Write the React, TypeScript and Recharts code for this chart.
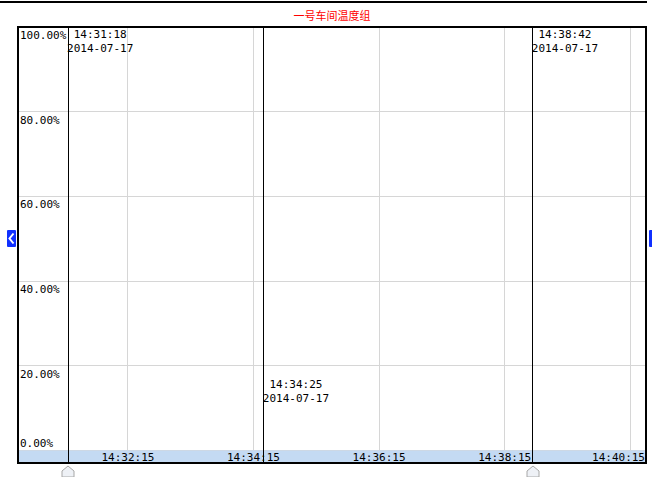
import React from "react";
import {
  ComposedChart,
  Line,
  XAxis,
  YAxis,
  CartesianGrid,
  ReferenceArea,
  ReferenceLine,
  ReferenceDot,
} from "recharts";

const chartTitle = "一号车间温度组";
const domainStart = "14:30:30";
const domainEnd = "14:40:30";
const xTickLabels = ["14:32:15", "14:34:15", "14:36:15", "14:38:15", "14:40:15"];
const yTickValues = [0, 20, 40, 60, 80, 100];
const yBandBottom = -2.95;
const cursorTimes = ["14:31:18", "14:34:25", "14:38:42"];
const cursorDates = ["2014-07-17", "2014-07-17", "2014-07-17"];
const cursorLabelLevels = [100, 17.3, 100];
const cursorMarkers = [true, false, true];
const temperatureValues: { t: number; value: number }[] = [];

const MONO = "'DejaVu Sans Mono', monospace";

const toSec = (s: string) => {
  const [h, m, sec] = s.split(":").map(Number);
  return h * 3600 + m * 60 + sec;
};
const pad = (n: number) => (n < 10 ? "0" + n : "" + n);
const fmtTime = (v: number) =>
  `${pad(Math.floor(v / 3600))}:${pad(Math.floor((v % 3600) / 60))}:${pad(v % 60)}`;

const xStart = toSec(domainStart);
const xEnd = toSec(domainEnd);
const xTicks = xTickLabels.map(toSec);

const XTick = (props: any) => {
  const { x, payload } = props;
  const label = fmtTime(payload.value);
  const overflow = x + 27 > 645;
  return (
    <text
      x={overflow ? 645 : x}
      y={461}
      textAnchor={overflow ? "end" : "middle"}
      fontFamily={MONO}
      fontSize={11}
      fill="#000"
    >
      {label}
    </text>
  );
};

const YTick = (props: any) => {
  const { y, payload } = props;
  const v = payload.value;
  return (
    <text
      x={20}
      y={v === 0 ? y - 4 : y + 12}
      textAnchor="start"
      fontFamily={MONO}
      fontSize={11}
      fill="#000"
    >
      {v.toFixed(2) + "%"}
    </text>
  );
};

const makeCursorLabel = (i: number) => (props: any) => {
  const vb = props.viewBox || {};
  const cx = vb.x + (vb.width || 0) / 2;
  const cy = vb.y + (vb.height || 0) / 2;
  return (
    <g>
      <text x={cx + 32} y={cy + 11} textAnchor="middle" fontFamily={MONO} fontSize={11} fill="#000">
        {cursorTimes[i]}
      </text>
      <text x={cx + 32} y={cy + 25} textAnchor="middle" fontFamily={MONO} fontSize={11} fill="#000">
        {cursorDates[i]}
      </text>
    </g>
  );
};

const makeMarker = (i: number) => (props: any) => {
  if (!cursorMarkers[i]) return null;
  const vb = props.viewBox || {};
  const x = Math.round(vb.x);
  const y0 = vb.y + vb.height + 3;
  const pts = `${x},${y0} ${x + 6},${y0 + 5} ${x + 6},${y0 + 11} ${x - 6},${y0 + 11} ${x - 6},${y0 + 5}`;
  return <polygon points={pts} fill="#eef1f6" stroke="#a8a8a8" strokeWidth={1} />;
};

export default function App() {
  return (
    <div
      style={{
        position: "fixed",
        left: 0,
        top: 0,
        width: 652,
        height: 477,
        background: "#fff",
        overflow: "hidden",
      }}
    >
      <div
        style={{
          position: "absolute",
          left: 0,
          top: 1,
          width: 647,
          height: 2,
          background: "#000",
        }}
      />
      <div
        style={{
          position: "absolute",
          left: 18,
          width: 628,
          top: 8,
          textAlign: "center",
          color: "#ff0000",
          fontFamily: "'Noto Sans CJK SC', sans-serif",
          fontSize: 11,
          lineHeight: "14px",
        }}
      >
        {chartTitle}
      </div>
      <div style={{ position: "absolute", left: 0, top: 0 }}>
        <ComposedChart
          width={652}
          height={477}
          data={temperatureValues}
          margin={{ top: 27, right: 6, bottom: 14, left: 18 }}
        >
          <CartesianGrid stroke="#d6d6d6" strokeWidth={1} shapeRendering="crispEdges" />
          <Line
            type="linear"
            dataKey="value"
            stroke="#d00000"
            dot={false}
            isAnimationActive={false}
          />
          <ReferenceArea
            x1={xStart}
            x2={xEnd}
            y1={yBandBottom}
            y2={0}
            fill="#c4daf3"
            fillOpacity={1}
            stroke="none"
            ifOverflow="visible"
          />
          <XAxis
            type="number"
            dataKey="t"
            domain={[xStart, xEnd]}
            ticks={xTicks}
            allowDataOverflow
            mirror
            height={14}
            axisLine={false}
            tickLine={false}
            tick={<XTick />}
            interval={0}
          />
          <YAxis
            type="number"
            domain={[yBandBottom, 100]}
            ticks={yTickValues}
            allowDataOverflow
            mirror
            width={60}
            axisLine={false}
            tickLine={false}
            tick={<YTick />}
            interval={0}
          />
          {cursorTimes.map((t, i) => (
            <ReferenceLine
              key={"l" + i}
              x={toSec(t)}
              stroke="#000"
              strokeWidth={1}
              shapeRendering="crispEdges"
              ifOverflow="visible"
              label={makeMarker(i)}
            />
          ))}
          {cursorTimes.map((t, i) => (
            <ReferenceDot
              key={"d" + i}
              x={toSec(t)}
              y={cursorLabelLevels[i]}
              r={0}
              fill="none"
              stroke="none"
              ifOverflow="visible"
              label={makeCursorLabel(i)}
            />
          ))}
          <ReferenceArea
            x1={xStart}
            x2={xEnd}
            y1={yBandBottom}
            y2={100}
            fill="none"
            stroke="#000"
            strokeWidth={2}
            ifOverflow="visible"
          />
        </ComposedChart>
      </div>
      <svg
        width={652}
        height={477}
        style={{ position: "absolute", left: 0, top: 0, pointerEvents: "none" }}
      >
        <rect x={7} y={230} width={9} height={17} rx={1} fill="#1030ff" />
        <polyline points="13.5,233.5 9.5,238.5 13.5,243.5" fill="none" stroke="#fff" strokeWidth={2} />
        <rect x={649} y={230} width={9} height={17} rx={1} fill="#1030ff" />
      </svg>
    </div>
  );
}
